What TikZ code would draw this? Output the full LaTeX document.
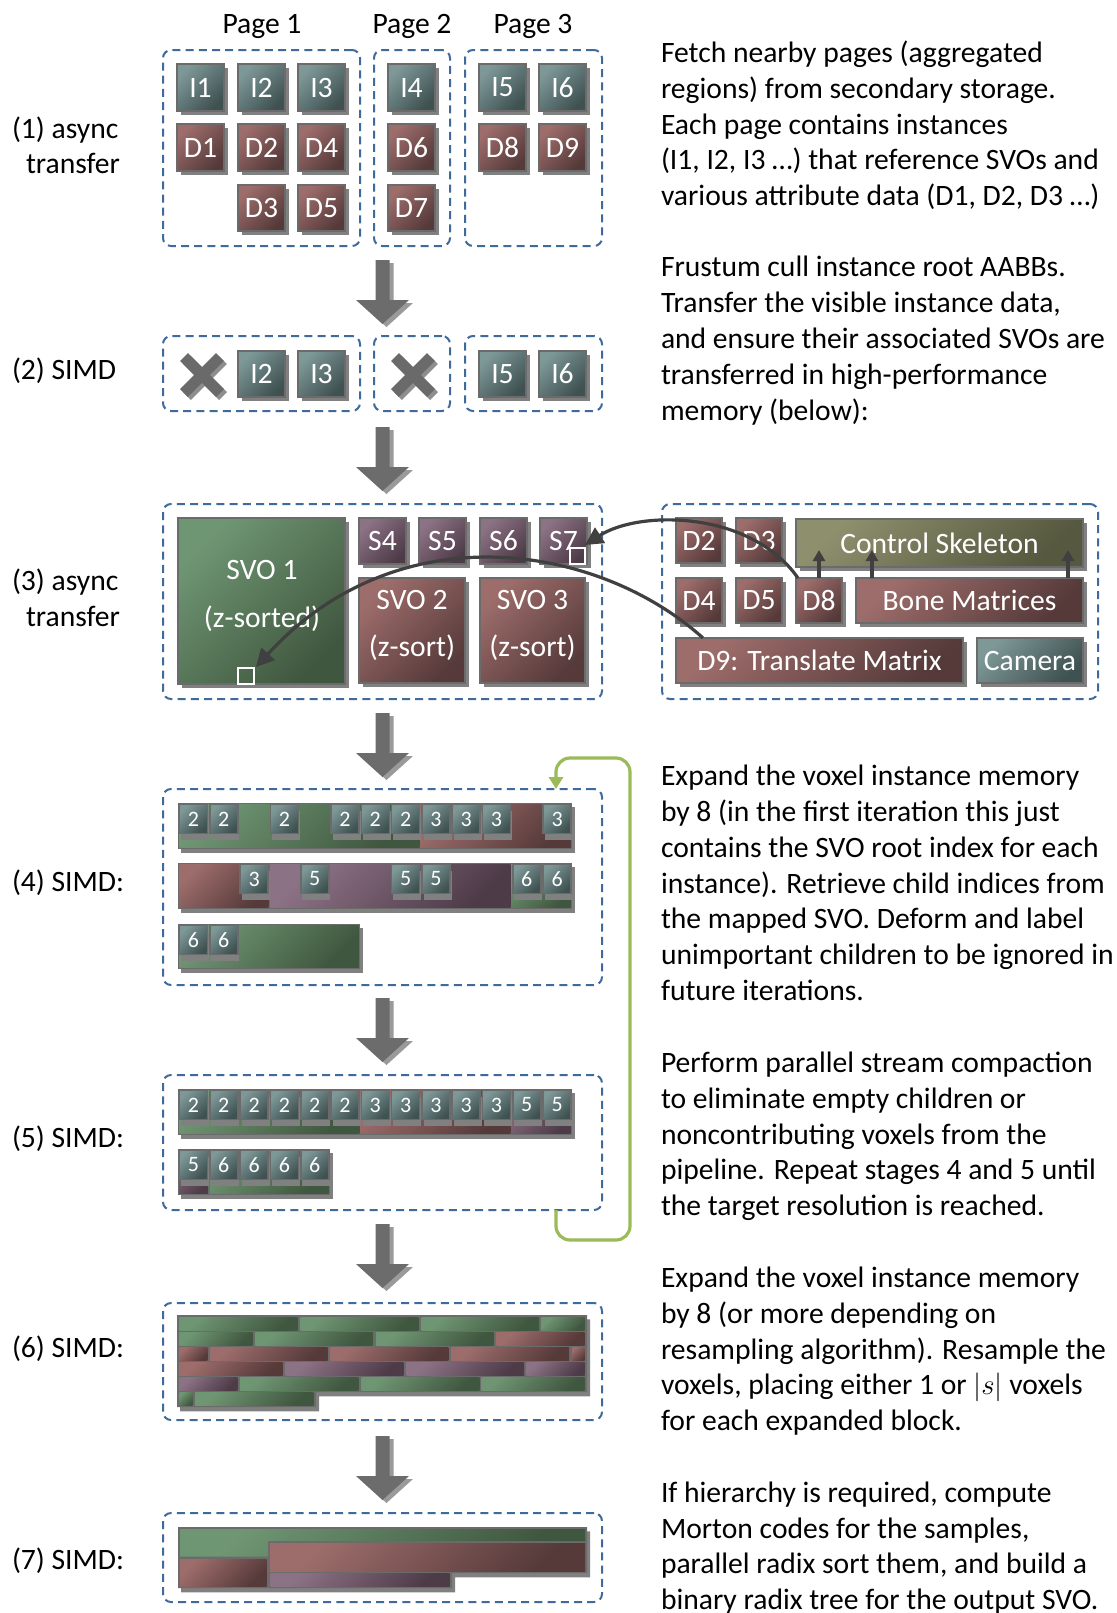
\documentclass[tikz,border=0pt]{standalone}
\usepackage{fontspec}
\setmainfont{Carlito}
\usetikzlibrary{shadows,arrows.meta,calc}

% palette
\definecolor{tealL}{HTML}{7E9898}
\definecolor{tealD}{HTML}{3F5151}
\definecolor{redL}{HTML}{9D6D6B}
\definecolor{redD}{HTML}{563A3A}
\definecolor{purL}{HTML}{8C7285}
\definecolor{purD}{HTML}{4E3B48}
\definecolor{grnL}{HTML}{6F9673}
\definecolor{grnD}{HTML}{40573F}
\definecolor{oliL}{HTML}{8D8F6D}
\definecolor{oliD}{HTML}{56583F}
\definecolor{edge}{HTML}{6B6B6B}
\definecolor{shadowgray}{HTML}{808080}
\definecolor{dashblue}{HTML}{3F6A9C}
\definecolor{ink}{HTML}{404040}
\definecolor{loopgreen}{HTML}{9BBB59}
\definecolor{arrowgray}{HTML}{6C6C6C}
\definecolor{arrowshade}{HTML}{9A9A9A}
\definecolor{crossgray}{HTML}{6A6A6A}
\definecolor{crossshade}{HTML}{8E8E8E}

\newcommand\bodyfont{\fontsize{14.8pt}{18pt}\selectfont}
\newcommand\tilefont{\fontsize{14.8pt}{17pt}\selectfont}
\newcommand\midfont{\fontsize{14.8pt}{17pt}\selectfont}
\newcommand\smallfont{\fontsize{11pt}{13pt}\selectfont}

% box from its top-left (x1,y1) to bottom-right (x2,y2), in pixel units
\newcommand\blk[7]{\node[#1, anchor=north west,
  minimum width={(#4-#2)*0.5pt}, minimum height={(#5-#3)*0.5pt}] (#6) at (#2,#3) {#7};}
% plain shaded rectangle
\newcommand\seg[5]{\path[#1] (#2,#3) rectangle (#4,#5);}
% block of left-aligned text lines
\newcommand\textblock[5]{%
  \foreach \t [count=\i from 0] in {#5} {\node[bodytext, anchor=base west] (#1-\i) at (#2, {#3+#4*\i}) {\t};}}

\tikzset{
  grad/.style 2 args={top color=#1, bottom color=#2, shading angle=45},
  cteal/.style={grad={tealL}{tealD}},
  cred/.style={grad={redL}{redD}},
  cpur/.style={grad={purL}{purD}},
  cgrn/.style={grad={grnL}{grnD}},
  coli/.style={grad={oliL}{oliD}},
  tilebox/.style={draw=edge, line width=1.1pt, inner sep=0pt, outer sep=0pt,
    text=white, font=\tilefont,
    general shadow={fill=shadowgray, shadow xshift=2pt, shadow yshift=-2pt}},
  smalltile/.style={cteal, draw=edge, line width=0.8pt, inner sep=0pt, outer sep=0pt,
    minimum width=14pt, minimum height=14.5pt, text=white, font=\smallfont,
    general shadow={fill=shadowgray, shadow xshift=0.8pt, shadow yshift=-3pt}},
  stagebox/.style={draw=dashblue, line width=1pt, dash pattern=on 4pt off 2.6pt,
    rounded corners=4pt, inner sep=0pt, outer sep=0pt},
  bodytext/.style={font=\bodyfont, inner sep=0pt, outer sep=0pt, text=black},
  tiletext/.style={font=\tilefont, text=white, inner sep=0pt},
  marker/.style={draw=white, line width=0.8pt, inner sep=0pt, outer sep=0pt},
  curvearrow/.style={draw=ink, line width=1.6pt, -{Triangle[length=9pt,width=9pt]}},
  uparrow/.style={draw=ink, line width=1.6pt, -{Triangle[length=5.5pt,width=6pt]}},
  looparrow/.style={draw=loopgreen, line width=1.6pt, rounded corners=7pt,
    -{Triangle[length=6pt,width=7pt]}},
  basefill/.style={fill=edge,
    general shadow={fill=shadowgray, shadow xshift=1.5pt, shadow yshift=-2.2pt}},
  blockarrow/.pic={
    \path[fill=arrowgray, general shadow={fill=arrowshade, shadow xshift=2pt, shadow yshift=-1.5pt}]
      (-7,0) -- (7,0) -- (7,40) -- (26.5,40) -- (0,64) -- (-26.5,40) -- (-7,40) -- cycle;
  },
  crossmark/.pic={
    \draw[crossshade, line width=5.5pt] (-15,-15) -- (21,21) (21,-15) -- (-15,21);
    \draw[crossgray, line width=5.5pt] (-18,-18) -- (18,18) (18,-18) -- (-18,18);
  },
}

\begin{document}
\begin{tikzpicture}[x=0.5pt, y=-0.5pt]
\fill[white] (0,0) rectangle (1116,1613);
\useasboundingbox (0,0) rectangle (1116,1613);

% ---------- stage frames ----------
\blk{stagebox}{163}{50}{360}{246}{pg1box}{}
\blk{stagebox}{374}{50}{450}{246}{pg2box}{}
\blk{stagebox}{465}{50}{602}{246}{pg3box}{}
\blk{stagebox}{163}{336}{360}{411}{c1box}{}
\blk{stagebox}{374}{336}{450}{411}{c2box}{}
\blk{stagebox}{465}{336}{602}{411}{c3box}{}
\blk{stagebox}{163}{504}{602}{699}{svobox}{}
\blk{stagebox}{662}{504}{1098}{699}{attrbox}{}
\blk{stagebox}{163}{789}{602}{985}{b4}{}
\blk{stagebox}{163}{1075}{602}{1210}{b5}{}
\blk{stagebox}{163}{1303}{602}{1420}{b6}{}
\blk{stagebox}{163}{1513}{602}{1602}{b7}{}

% ---------- page titles and stage labels ----------
\node[bodytext, anchor=base] (pt1) at (262,33.5) {Page 1};
\node[bodytext, anchor=base] (pt2) at (412,33.5) {Page 2};
\node[bodytext, anchor=base] (pt3) at (533,33.5) {Page 3};

\node[bodytext, anchor=base west] (l1a) at (12,138.6) {(1) async};
\node[bodytext, anchor=base west] (l1b) at (26,173.6) {transfer};
\node[bodytext, anchor=base west] (l2) at (12,379) {(2) SIMD};
\node[bodytext, anchor=base west] (l3a) at (12,590) {(3) async};
\node[bodytext, anchor=base west] (l3b) at (26,626) {transfer};
\node[bodytext, anchor=base west] (l4) at (12,891.5) {(4) SIMD:};
\node[bodytext, anchor=base west] (l5) at (12,1147.6) {(5) SIMD:};
\node[bodytext, anchor=base west] (l6) at (12,1357.5) {(6) SIMD:};
\node[bodytext, anchor=base west] (l7) at (12,1569.4) {(7) SIMD:};

% ---------- stage 1: pages ----------
\blk{tilebox,cteal}{177}{64}{224}{111}{s1i1}{I1}
\blk{tilebox,cteal}{238}{64}{285}{111}{s1i2}{I2}
\blk{tilebox,cteal}{298}{64}{345}{111}{s1i3}{I3}
\blk{tilebox,cred}{177}{124}{224}{171}{s1d1}{D1}
\blk{tilebox,cred}{238}{124}{285}{171}{s1d2}{D2}
\blk{tilebox,cred}{298}{124}{345}{171}{s1d4}{D4}
\blk{tilebox,cred}{238}{185}{285}{231}{s1d3}{D3}
\blk{tilebox,cred}{298}{185}{345}{231}{s1d5}{D5}
\blk{tilebox,cteal}{388}{64}{435}{111}{s1i4}{I4}
\blk{tilebox,cred}{388}{124}{435}{171}{s1d6}{D6}
\blk{tilebox,cred}{388}{185}{435}{231}{s1d7}{D7}
\blk{tilebox,cteal}{479}{64}{526}{111}{s1i5}{I5}
\blk{tilebox,cteal}{539}{64}{586}{111}{s1i6}{I6}
\blk{tilebox,cred}{479}{124}{526}{171}{s1d8}{D8}
\blk{tilebox,cred}{539}{124}{586}{171}{s1d9}{D9}

% ---------- stage 2: culled instances ----------
\pic (cull1) at (202,375) {crossmark};
\pic (cull2) at (413,375) {crossmark};
\blk{tilebox,cteal}{238}{351}{285}{397}{s2i2}{I2}
\blk{tilebox,cteal}{298}{351}{345}{397}{s2i3}{I3}
\blk{tilebox,cteal}{479}{351}{526}{397}{s2i5}{I5}
\blk{tilebox,cteal}{539}{351}{586}{397}{s2i6}{I6}

% ---------- stage 3: SVOs and attribute data ----------
\blk{tilebox,cgrn}{178}{518}{345}{684}{svo1}{}
\node[tiletext] (svo1a) at (262,569.5) {SVO 1};
\node[tiletext] (svo1b) at (262,619) {(z-sorted)};
\blk{tilebox,cpur}{359}{518}{406}{564}{s4}{S4}
\blk{tilebox,cpur}{419}{518}{466}{564}{s5}{S5}
\blk{tilebox,cpur}{480}{518}{527}{564}{s6}{S6}
\blk{tilebox,cpur}{540}{518}{587}{564}{s7}{S7}
\blk{tilebox,cred}{359}{578}{465}{683}{svo2}{}
\node[tiletext] (svo2a) at (412,600) {SVO 2};
\node[tiletext] (svo2b) at (412,647.5) {(z-sort)};
\blk{tilebox,cred}{480}{578}{585}{683}{svo3}{}
\node[tiletext] (svo3a) at (532.5,600) {SVO 3};
\node[tiletext] (svo3b) at (532.5,647.5) {(z-sort)};
\node[marker, anchor=north west, minimum width=7.5pt, minimum height=8pt] (sq7) at (570,548) {};
\node[marker, anchor=north west, minimum width=8pt, minimum height=8pt] (sq1) at (238,668) {};

\blk{tilebox,cred}{676}{518}{722}{563}{d2s}{D2}
\blk{tilebox,cred}{736}{518}{782}{563}{d3s}{D3}
\blk{tilebox,coli,font=\midfont}{796}{519}{1083}{567}{cs}{Control Skeleton}
\blk{tilebox,cred}{676}{578}{722}{623}{d4s}{D4}
\blk{tilebox,cred}{736}{578}{782}{623}{d5s}{D5}
\blk{tilebox,cred}{796}{578}{842}{623}{d8s}{D8}
\blk{tilebox,cred,font=\midfont}{856}{578}{1083}{623}{bm}{Bone Matrices}
\blk{tilebox,cred,font=\midfont}{676}{638}{963}{683}{d9t}{D9: Translate Matrix}
\blk{tilebox,cteal,font=\midfont}{977}{638}{1083}{683}{cam}{Camera}

\draw[uparrow] (d8s.north) -- ($(d8s.north |- cs.south)+(0,-17)$);
\draw[uparrow] ($(bm.north west)+(16,0)$) -- ($(bm.north west)+(16,-28)$);
\draw[uparrow] ($(bm.north east)+(-15,0)$) -- ($(bm.north east)+(-15,-28)$);

\draw[curvearrow] ($(d8s.north west)+(2,0)$) .. controls +(-48,-68) and +(54,-35) .. ($(sq7.north east)+(0,-3)$);
\draw[curvearrow] ($(d9t.north west)+(27,0)$) .. controls +(-103,-93) and +(144,-157) .. ($(sq1.north east)+(2,-1)$);

% ---------- stage 4: expanded instances ----------
\fill[basefill] (178,803) rectangle (572,849);
\seg{cgrn}{179.5}{804.5}{419.4}{847.5}
\seg{cred}{420.4}{804.5}{570.5}{847.5}
\foreach \s/\v in {0/2,1/2,3/2,5/2,6/2,7/2,8/3,9/3,10/3,12/3}
  \node[smalltile, anchor=north west] (ra-\s) at (179.5+30.3*\s,804.5) {\v};

\fill[basefill] (178,863) rectangle (572,909);
\seg{cred}{179.5}{864.5}{268.4}{907.5}
\seg{cpur}{270.4}{864.5}{510.4}{907.5}
\seg{cgrn}{511.4}{864.5}{570.5}{907.5}
\foreach \s/\v in {2/3,4/5,7/5,8/5,11/6,12/6}
  \node[smalltile, anchor=north west] (rb-\s) at (179.5+30.3*\s,864.5) {\v};

\fill[basefill] (178,924) rectangle (360,969);
\seg{cgrn}{179.5}{925.5}{358.5}{967.5}
\foreach \s/\v in {0/6,1/6}
  \node[smalltile, anchor=north west] (rc-\s) at (179.5+30.3*\s,925.5) {\v};

% ---------- stage 5: compacted instances ----------
\fill[basefill] (178,1089) rectangle (572,1135);
\seg{cgrn}{179.5}{1090.5}{359.3}{1133.5}
\seg{cred}{360.3}{1090.5}{510.4}{1133.5}
\seg{cpur}{511.4}{1090.5}{570.5}{1133.5}
\foreach \s/\v in {0/2,1/2,2/2,3/2,4/2,5/2,6/3,7/3,8/3,9/3,10/3,11/5,12/5}
  \node[smalltile, anchor=north west] (rd-\s) at (179.5+30.3*\s,1090.5) {\v};

\fill[basefill] (178,1149) rectangle (330,1195);
\seg{cpur}{179.5}{1150.5}{207.8}{1193.5}
\seg{cgrn}{209.8}{1150.5}{328.5}{1193.5}
\foreach \s/\v in {0/5,1/6,2/6,3/6,4/6}
  \node[smalltile, anchor=north west] (re-\s) at (179.5+30.3*\s,1150.5) {\v};

% ---------- stage 6: resampled voxels ----------
\fill[basefill] (177,1315) -- (587,1315) -- (587,1392) -- (316,1392) -- (316,1407) -- (177,1407) -- cycle;
\seg{cgrn}{179.3}{1317.3}{297.7}{1330}
\seg{cgrn}{300.7}{1317.3}{418.3}{1330}
\seg{cgrn}{421.7}{1317.3}{539}{1330}
\seg{cgrn}{541.7}{1317.3}{584.5}{1330}
\seg{cgrn}{179.3}{1332.3}{252.3}{1345}
\seg{cgrn}{255.3}{1332.3}{372.7}{1345}
\seg{cgrn}{376}{1332.3}{493.7}{1345}
\seg{cred}{496.7}{1332.3}{584.5}{1345}
\seg{cred}{179.3}{1347.3}{207.3}{1360}
\seg{cred}{210}{1347.3}{327.7}{1360}
\seg{cred}{330.7}{1347.3}{448.3}{1360}
\seg{cred}{451.3}{1347.3}{569}{1360}
\seg{cred}{572}{1347.3}{584.5}{1360}
\seg{cred}{179.3}{1362.3}{282.7}{1375}
\seg{cpur}{285.7}{1362.3}{403.3}{1375}
\seg{cpur}{406.7}{1362.3}{524}{1375}
\seg{cpur}{526.7}{1362.3}{584.5}{1375}
\seg{cpur}{179.3}{1377.3}{237.3}{1390}
\seg{cgrn}{240}{1377.3}{358.3}{1390}
\seg{cgrn}{361.7}{1377.3}{479.3}{1390}
\seg{cgrn}{481.7}{1377.3}{584.5}{1390}
\seg{cgrn}{179.3}{1392.3}{192.3}{1405}
\seg{cgrn}{195}{1392.3}{313.3}{1405}

% ---------- stage 7: sorted output ----------
\fill[basefill] (178,1527) -- (587,1527) -- (587,1573) -- (452,1573) -- (452,1588) -- (178,1588) -- cycle;
\path[cgrn] (180,1529) -- (585,1529) -- (585,1541) -- (268,1541) -- (268,1556.5) -- (180,1556.5) -- cycle;
\seg{cred}{270}{1543.5}{585}{1571}
\seg{cred}{180}{1559}{266.5}{1586}
\seg{cpur}{270.5}{1573.5}{449.5}{1586}

% ---------- flow arrows between stages ----------
\pic (flow1) at (382.5,260) {blockarrow};
\pic (flow2) at (382.5,427) {blockarrow};
\pic (flow3) at (382.5,713) {blockarrow};
\pic (flow4) at (382.5,998) {blockarrow};
\pic (flow5) at (382.5,1224) {blockarrow};
\pic (flow6) at (382.5,1436) {blockarrow};

% repeat loop from stage 5 back to stage 4
\draw[looparrow] ($(b5.south east)+(-46,0)$) -- ($(b5.south east)+(-46,30)$)
  -- ($(b5.south east)+(28,30)$) -- ($(b4.north east)+(28,-31)$)
  -- ($(b4.north east)+(-46,-31)$) -- ($(b4.north east)+(-46,0)$);

% ---------- descriptions ----------
\textblock{d1}{661}{62.5}{35.75}{{Fetch nearby pages (aggregated},{regions) from secondary storage.},{Each page contains instances},{(I1, I2, I3 …) that reference SVOs and},{various attribute data (D1, D2, D3 …)}}
\textblock{d2}{661}{276}{36}{{Frustum cull instance root AABBs.},{Transfer the visible instance data,},{and ensure their associated SVOs are},{transferred in high-performance},{memory (below):}}
\textblock{d3}{661}{785.5}{35.85}{{Expand the voxel instance memory},{by 8 (in the first iteration this just},{contains the SVO root index for each},{instance). Retrieve child indices from},{the mapped SVO. Deform and label},{unimportant children to be ignored in},{future iterations.}}
\textblock{d4}{661}{1072.5}{35.75}{{Perform parallel stream compaction},{to eliminate empty children or},{noncontributing voxels from the},{pipeline. Repeat stages 4 and 5 until},{the target resolution is reached.}}
\textblock{d5}{661}{1287.5}{35.75}{{Expand the voxel instance memory},{by 8 (or more depending on},{resampling algorithm). Resample the},{voxels, placing either 1 or $|s|$ voxels},{for each expanded block.}}
\textblock{d6}{661}{1502.5}{35.7}{{If hierarchy is required, compute},{Morton codes for the samples,},{parallel radix sort them, and build a},{binary radix tree for the output SVO.}}
\end{tikzpicture}
\end{document}
